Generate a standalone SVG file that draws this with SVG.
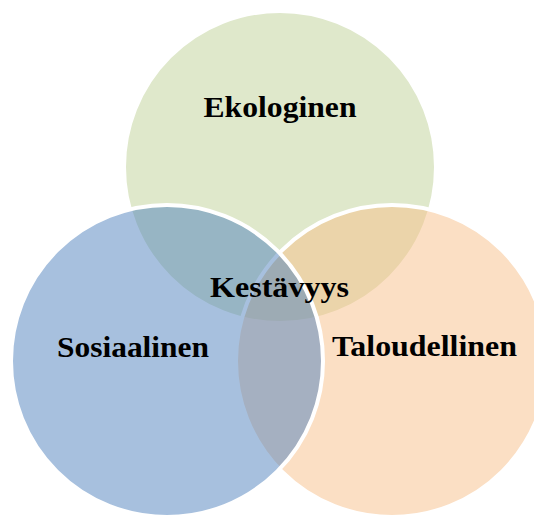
<svg xmlns="http://www.w3.org/2000/svg" width="534" height="515" viewBox="0 0 534 515">
  <style>
    .c { stroke: #ffffff; stroke-width: 4; }
    .t { font-family: "Liberation Serif", "Times New Roman", serif; font-weight: bold; font-size: 30px; fill: #000000; text-anchor: middle; }
  </style>
  <rect width="534" height="515" fill="#ffffff"/>
  <g id="ekologinen">
    <circle class="c" cx="280" cy="167" r="156" fill="rgb(191,209,151)" fill-opacity="0.5"/>
    <text class="t" x="280" y="117" textLength="153" lengthAdjust="spacingAndGlyphs">Ekologinen</text>
  </g>
  <g id="taloudellinen">
    <circle class="c" cx="392" cy="361" r="156" fill="rgb(247,191,137)" fill-opacity="0.5"/>
    <text class="t" x="424.5" y="356" textLength="185" lengthAdjust="spacingAndGlyphs">Taloudellinen</text>
  </g>
  <g id="sosiaalinen">
    <circle class="c" cx="167" cy="361" r="156" fill="rgb(79,129,189)" fill-opacity="0.5"/>
    <text class="t" x="133" y="357" textLength="152" lengthAdjust="spacingAndGlyphs">Sosiaalinen</text>
  </g>
  <g id="kestavyys">
    <text class="t" x="279.5" y="297" textLength="139" lengthAdjust="spacingAndGlyphs">Kestävyys</text>
  </g>
</svg>
